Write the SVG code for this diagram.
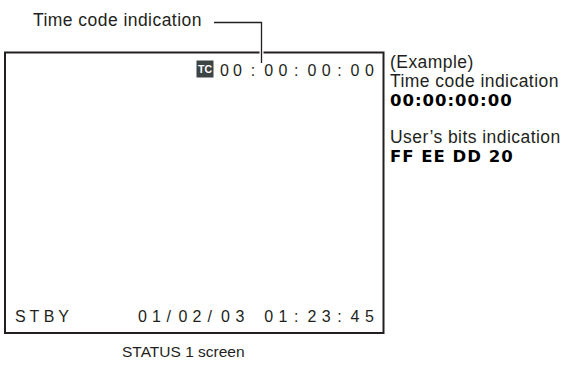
<svg xmlns="http://www.w3.org/2000/svg" width="564" height="367" viewBox="0 0 564 367">
<style>
.t{font-family:"Liberation Sans",Arial,sans-serif;fill:#231f20}
.lbl{font-size:17.5px;letter-spacing:0.45px}
.scr{font-size:16px}
.b{font-family:"DejaVu Sans",sans-serif;font-weight:bold;font-size:16.5px;letter-spacing:1px;fill:#000}
.ln{stroke:#231f20;fill:none}
</style>
<rect width="564" height="367" fill="#fff"/>
<g id="screen">
<rect x="5" y="52.5" width="378.5" height="280.5" class="ln" stroke-width="2"/>
<rect x="196.5" y="60.5" width="17" height="17" fill="#3d4444"/>
<text x="205" y="73" text-anchor="middle" font-family="Liberation Sans,Arial,sans-serif" font-weight="bold" font-size="10.5" fill="#fff">TC</text>
<text class="t scr" y="76" x="220 233 250.8 264.2 278.6 294 307.4 321.8 337.2 350.6 365">00:00:00:00</text>
<text class="t scr" y="322" x="15 29.4 43.8 58.2">STBY</text>
<text class="t scr" y="322" x="138 152 166.4 178.4 192.4 207.6 221 235.4">01/02/03</text>
<text class="t scr" y="322" x="264.2 278.6 294 307.4 321.8 337.2 350.6 365">01:23:45</text>
</g>
<g id="connectors">
<path d="M261.5 22V63" stroke="#fff" stroke-width="4" fill="none"/>
<path d="M214 22.5H261.5V63" class="ln" stroke-width="1.3"/>
</g>
<g id="label-top">
<text class="t lbl" x="33" y="26">Time code indication</text>
</g>
<g id="example">
<text class="t lbl" x="390" y="67.5">(Example)</text>
<text class="t lbl" x="390" y="86.5">Time code indication</text>
<text class="b" x="390" y="106">00:00:00:00</text>
<text class="t lbl" x="390" y="142.5">User’s bits indication</text>
<text class="b" x="390" y="162" letter-spacing="1.3">FF EE DD 20</text>
</g>
<g id="caption">
<text class="t" font-size="15.5" x="122" y="357">STATUS 1 screen</text>
</g>
</svg>
